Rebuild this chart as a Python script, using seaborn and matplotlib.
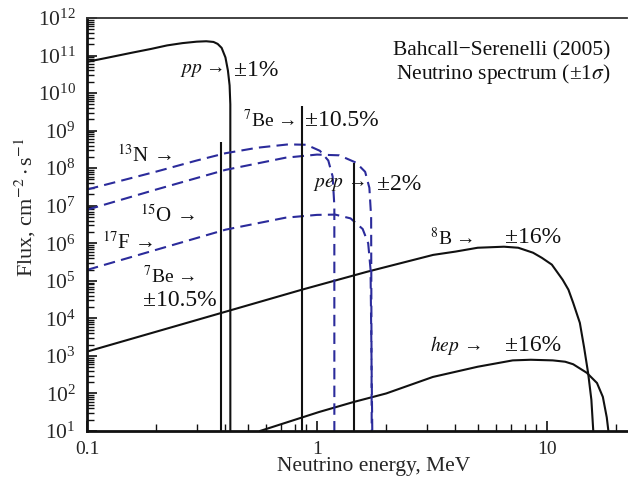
import matplotlib
matplotlib.use("Agg")
import matplotlib.pyplot as plt
import matplotlib.ticker as mticker
import seaborn as sns
import numpy as np

# spectra (energy in MeV, flux in cm^-2 s^-1)
pp_e = [0.1, 0.12, 0.158, 0.19, 0.223, 0.26, 0.3, 0.33, 0.355, 0.37, 0.385, 0.40,
        0.41, 0.417, 0.42, 0.4201]
pp_f = [6.8e10, 8.5e10, 1.2e11, 1.5e11, 1.86e11, 2.14e11, 2.34e11, 2.4e11, 2.3e11,
        2.04e11, 1.6e11, 8.9e10, 4e10, 1.6e10, 5e9, 10]

n13_e = [0.1, 0.2, 0.3, 0.4, 0.55, 0.75, 0.9, 1.03, 1.12, 1.17, 1.19, 1.1901]
n13_f = [2.7e7, 8.1e7, 1.6e8, 2.5e8, 3.5e8, 4.3e8, 4.2e8, 2.9e8, 1.6e8, 6e7, 1e7, 10]

o15_e = [0.1, 0.2, 0.4, 0.73, 1.0, 1.25, 1.48, 1.62, 1.69, 1.72, 1.73]
o15_f = [7.8e6, 2.7e7, 9e7, 1.9e8, 2.3e8, 2.2e8, 1.4e8, 8e7, 3e7, 5e6, 10]

f17_e = [0.1, 0.2, 0.4, 0.73, 1.0, 1.2, 1.4, 1.58, 1.67, 1.71, 1.74]
f17_f = [1.95e5, 6.7e5, 2.3e6, 4.8e6, 5.7e6, 5.8e6, 4.6e6, 2.4e6, 1e6, 2e5, 10]

b8_e = [0.1, 0.4, 0.86, 1.65, 3.2, 4.0, 5.0, 6.5, 7.5, 8.7, 9.5, 10.5, 11.7, 12.4,
        13.0, 13.9, 14.5, 15.1, 15.6, 15.9]
b8_f = [1.3e3, 1.5e4, 5.8e4, 1.74e5, 4.9e5, 6.0e5, 7.6e5, 8.1e5, 7.6e5, 5.6e5, 4.1e5,
        2.7e5, 1.07e5, 5.8e4, 2.6e4, 7.6e3, 1.7e3, 3.5e2, 68, 10]

hep_e = [0.565, 1.02, 1.44, 2.0, 3.19, 5.0, 7.1, 8.5, 10.6, 12.0, 13.0, 14.9, 16.5,
         17.5, 18.2, 18.5]
hep_f = [10, 32, 59, 100, 275, 515, 760, 790, 760, 700, 600, 355, 190, 81, 23, 10]

# line spectra: 7Be (two lines) and pep
line_e = [0.384, 0.862, 1.442]
line_f = [5e8, 4.4e9, 1.4e8]

sns.set_style("white")
plt.rcParams["font.family"] = ["Liberation Serif", "DejaVu Serif"]
plt.rcParams["mathtext.fontset"] = "stix"
FS = 14

fig = plt.figure(figsize=(6.28, 4.9), dpi=100)
ax = fig.add_axes([0.1385, 0.1204, 0.86, 0.8429])

black = "#111111"
blue = "#2b2b9b"

for e, f in [(pp_e, pp_f), (b8_e, b8_f), (hep_e, hep_f)]:
    sns.lineplot(x=e, y=f, ax=ax, color=black, lw=1.5, sort=False, estimator=None)
for e, f in [(n13_e, n13_f), (o15_e, o15_f), (f17_e, f17_f)]:
    sns.lineplot(x=e, y=f, ax=ax, color=blue, lw=1.5, sort=False, estimator=None,
                 linestyle=(0, (5.5, 3)))
ax.vlines(line_e, 10, line_f, color=black, lw=1.5)

ax.set_xscale("log")
ax.set_yscale("log")
ax.set_xlim(0.1, 22.3)
ax.set_ylim(10, 1e12)

ax.spines["right"].set_visible(False)
for s in ["left", "bottom"]:
    ax.spines[s].set_linewidth(2)
    ax.spines[s].set_color(black)
ax.spines["top"].set_linewidth(1.3)
ax.spines["top"].set_color("#333333")

ax.yaxis.set_major_locator(mticker.LogLocator(base=10, numticks=20))
ax.yaxis.set_minor_locator(mticker.LogLocator(base=10, subs=np.arange(2, 10), numticks=20))
ax.yaxis.set_minor_formatter(mticker.NullFormatter())
ax.xaxis.set_major_locator(mticker.FixedLocator([0.1, 1, 10]))
ax.xaxis.set_major_formatter(mticker.FixedFormatter(["0.1", "1", "10"]))
ax.xaxis.set_minor_locator(mticker.LogLocator(base=10, subs=np.arange(2, 10), numticks=20))
ax.xaxis.set_minor_formatter(mticker.NullFormatter())
ax.tick_params(which="both", direction="in", left=True, bottom=True, top=False, right=False,
               color=black)
ax.tick_params(which="major", length=7, width=1.2)
ax.tick_params(which="minor", length=5, width=1.0)
ax.tick_params(axis="x", labelsize=14, pad=7)
ax.tick_params(axis="y", labelsize=15.5, pad=8)

ax.set_xlabel("Neutrino energy, MeV", fontsize=15.5)
ax.xaxis.set_label_coords(0.531, -0.063)
ax.set_ylabel(r"Flux, cm$^{-2}\cdot$s$^{-1}$", fontsize=16)
ax.yaxis.set_label_coords(-0.091, 0.541)

kw = dict(fontsize=FS, va="center", ha="left", color=black)
pk = dict(fontsize=17, va="center", ha="left", color=black)
ax.text(0.254, 10**10.6, r"$pp$ →", **kw)
ax.text(0.436, 10**10.6, "±1%", **pk)
ax.text(0.477, 10**9.27, r"$^{7}$Be →", **kw)
ax.text(0.887, 10**9.27, "±10.5%", **pk)
ax.text(0.135, 10**8.31, r"$^{13}$N →", fontsize=15, va="center", ha="left", color=black)
ax.text(0.17, 10**6.71, r"$^{15}$O →", fontsize=15, va="center", ha="left", color=black)
ax.text(0.116, 10**6.01, r"$^{17}$F →", fontsize=15, va="center", ha="left", color=black)
ax.text(0.175, 10**5.13, r"$^{7}$Be →", **kw)
ax.text(0.175, 10**4.47, "±10.5%", **pk)
ax.text(0.96, 10**7.56, r"$pep$ →", **kw)
ax.text(1.82, 10**7.56, "±2%", **pk)
ax.text(3.1, 10**6.15, r"$^{8}$B →", **kw)
ax.text(6.6, 10**6.15, "±16%", **pk)
ax.text(3.1, 10**3.29, r"$hep$ →", **kw)
ax.text(6.6, 10**3.29, "±16%", **pk)

ax.text(0.970, 0.92, "Bahcall−Serenelli (2005)", transform=ax.transAxes,
        fontsize=15.5, ha="right", va="center", color=black)
ax.text(0.970, 0.864, r"Neutrino spectrum (±1$\sigma$)", transform=ax.transAxes,
        fontsize=15.5, ha="right", va="center", color=black)

fig.savefig("out.png", dpi=100)
